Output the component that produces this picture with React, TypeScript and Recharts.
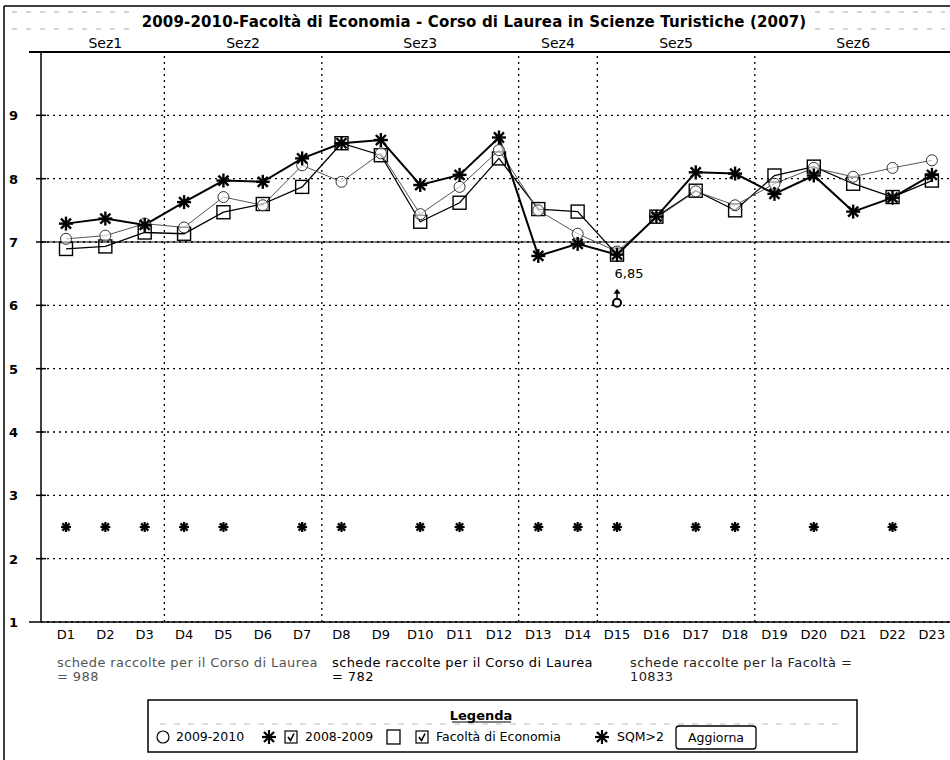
import React from "react";
import { ComposedChart, Line, XAxis, YAxis, CartesianGrid, ReferenceLine } from "recharts";

const FONT = "'DejaVu Sans', Verdana, sans-serif";

const title = "2009-2010-Facoltà di Economia - Corso di Laurea in Scienze Turistiche (2007)";
const categories = ["D1","D2","D3","D4","D5","D6","D7","D8","D9","D10","D11","D12","D13","D14","D15","D16","D17","D18","D19","D20","D21","D22","D23"];
const values2009_2010 = [7.05, 7.10, 7.29, 7.23, 7.71, 7.58, 8.21, 7.95, 8.40, 7.44, 7.87, 8.45, 7.50, 7.13, 6.85, 7.38, 7.80, 7.58, 7.92, 8.17, 8.03, 8.17, 8.29];
const values2008_2009 = [7.29, 7.37, 7.27, 7.63, 7.97, 7.95, 8.32, 8.56, 8.61, 7.90, 8.06, 8.65, 6.78, 6.97, 6.80, 7.40, 8.10, 8.08, 7.76, 8.05, 7.48, 7.70, 8.06];
const valuesFacolta = [6.89, 6.93, 7.15, 7.13, 7.47, 7.60, 7.87, 8.56, 8.37, 7.32, 7.62, 8.32, 7.52, 7.48, 6.80, 7.40, 7.81, 7.50, 8.05, 8.19, 7.92, 7.71, 7.97];
const sqmFlags = [1, 1, 1, 1, 1, 0, 1, 1, 0, 1, 1, 0, 1, 1, 1, 0, 1, 1, 0, 1, 0, 1, 0];
const sqmLevel = 2.5;
const sections = [
  { name: "Sez1", first: 1, last: 3 },
  { name: "Sez2", first: 4, last: 7 },
  { name: "Sez3", first: 8, last: 12 },
  { name: "Sez4", first: 13, last: 14 },
  { name: "Sez5", first: 15, last: 18 },
  { name: "Sez6", first: 19, last: 23 },
];
const yTicks = [1, 2, 3, 4, 5, 6, 7, 8, 9];
const yDomain = [1, 10];
const referenceLevel = 7;
const minLabel = { category: "D15", value: 6.85, text: "6,85" };
const arrowMarker = { category: "D15", value: 6.04 };
const countBlocks = [
  { line1: "schede raccolte per il Corso di Laurea", line2: "= 988" },
  { line1: "schede raccolte per il Corso di Laurea", line2: "= 782" },
  { line1: "schede raccolte per la Facoltà =", line2: "10833" },
];
const legendTitle = "Legenda";
const legendLabels = ["2009-2010", "2008-2009", "Facoltà di Economia", "SQM>2"];
const buttonLabel = "Aggiorna";

const table = categories.map((c, i) => ({
  x: i + 1,
  name: c,
  cur: values2009_2010[i],
  prev: values2008_2009[i],
  fac: valuesFacolta[i],
  sqm: sqmFlags[i] ? sqmLevel : null,
  lbl: c === minLabel.category ? minLabel.value : null,
  arrow: c === arrowMarker.category ? arrowMarker.value : null,
}));

const xTicks = categories.map((_, i) => i + 1);
const sectionCenters = sections.map((s) => (s.first + s.last) / 2);
const sectionBounds = sections.slice(0, -1).map((s) => s.last + 0.5);
const xDomain = [0.365, 23.46];

const Asterisk = ({ cx, cy, r, sw }: any) => {
  const d = r * 0.72;
  return (
    <g stroke="#000" strokeWidth={sw}>
      <line x1={cx - r} y1={cy} x2={cx + r} y2={cy} />
      <line x1={cx} y1={cy - r} x2={cx} y2={cy + r} />
      <line x1={cx - d} y1={cy - d} x2={cx + d} y2={cy + d} />
      <line x1={cx - d} y1={cy + d} x2={cx + d} y2={cy - d} />
    </g>
  );
};

const valid = (p: any) => p && p.value != null && p.cx != null && p.cy != null && !isNaN(p.cy);

const circleDot = (p: any) =>
  valid(p) ? <circle key={`c${p.index}`} cx={p.cx} cy={p.cy} r={5.5} fill="#fff" fillOpacity={0.6} stroke="#333" strokeWidth={1} /> : <g key={`c${p.index}`} />;
const squareDot = (p: any) =>
  valid(p) ? <rect key={`s${p.index}`} x={p.cx - 6.5} y={p.cy - 6.5} width={13} height={13} fill="none" stroke="#000" strokeWidth={1.4} /> : <g key={`s${p.index}`} />;
const starDot = (p: any) =>
  valid(p) ? <g key={`a${p.index}`}><Asterisk cx={p.cx} cy={p.cy} r={7} sw={2.4} /></g> : <g key={`a${p.index}`} />;
const sqmDot = (p: any) =>
  valid(p) ? <g key={`q${p.index}`}><Asterisk cx={p.cx} cy={p.cy} r={5} sw={2.2} /></g> : <g key={`q${p.index}`} />;
const labelDot = (p: any) =>
  valid(p) ? (
    <text key={`l${p.index}`} x={p.cx + 12} y={p.cy + 26} textAnchor="middle" fontFamily={FONT} fontSize={13} fill="#000">
      {minLabel.text}
    </text>
  ) : <g key={`l${p.index}`} />;
const arrowDot = (p: any) =>
  valid(p) ? (
    <g key={`w${p.index}`}>
      <line x1={p.cx} y1={p.cy - 4} x2={p.cx} y2={p.cy - 10} stroke="#000" strokeWidth={1.5} />
      <polygon points={`${p.cx - 3.5},${p.cy - 9} ${p.cx + 3.5},${p.cy - 9} ${p.cx},${p.cy - 14}`} fill="#000" />
      <circle cx={p.cx} cy={p.cy} r={4} fill="#fff" stroke="#000" strokeWidth={2} />
    </g>
  ) : <g key={`w${p.index}`} />;

const YTick = (props: any) => {
  const { y, payload } = props;
  return (
    <g>
      <text x={9} y={y + 5} fontFamily={FONT} fontSize={13} fontWeight="bold" fill="#000">{payload.value}</text>
      {payload.value === 1 ? (
        <line x1={29} x2={41} y1={y} y2={y} stroke="#000" strokeWidth={1.5} />
      ) : (
        <line x1={36} x2={46} y1={y} y2={y} stroke="#000" strokeWidth={1.5} />
      )}
    </g>
  );
};

const XTick = (props: any) => {
  const { x, y, payload } = props;
  return (
    <text x={x} y={y + 17} textAnchor="middle" fontFamily={FONT} fontSize={13} fill="#000">
      {categories[payload.value - 1]}
    </text>
  );
};

const TopTick = (props: any) => {
  const { x, y, payload } = props;
  const idx = sectionCenters.indexOf(payload.value);
  return (
    <text x={x} y={y - 4} textAnchor="middle" fontFamily={FONT} fontSize={14} fill="#000">
      {idx >= 0 ? sections[idx].name : ""}
    </text>
  );
};

const CheckBox = ({ x, y }: any) => (
  <g>
    <rect x={x} y={y} width={12} height={12} fill="#fff" stroke="#000" strokeWidth={1.2} />
    <polyline points={`${x + 3},${y + 6} ${x + 5.5},${y + 9.5} ${x + 9},${y + 2.5}`} fill="none" stroke="#000" strokeWidth={1.6} />
  </g>
);

export default function App() {
  return (
    <div style={{ position: "absolute", left: 0, top: 0, width: 950, height: 760, background: "#fff" }}>
      <ComposedChart
        width={950}
        height={760}
        data={table}
        margin={{ top: 22, right: 0, bottom: 108, left: 0 }}
      >
        <CartesianGrid vertical={false} stroke="#000" strokeDasharray="2 4" strokeWidth={1.3} />
        <XAxis
          xAxisId="top"
          orientation="top"
          type="number"
          dataKey="x"
          domain={xDomain}
          allowDataOverflow
          ticks={sectionCenters}
          interval={0}
          tickSize={0}
          tickMargin={0}
          height={30}
          tick={<TopTick />}
          axisLine={{ stroke: "#000", strokeWidth: 2 }}
          tickLine={false}
        />
        <XAxis
          type="number"
          dataKey="x"
          domain={xDomain}
          allowDataOverflow
          ticks={xTicks}
          interval={0}
          tickSize={0}
          tickMargin={0}
          height={30}
          tick={<XTick />}
          axisLine={{ stroke: "#000", strokeWidth: 1.5 }}
          tickLine={false}
        />
        <YAxis
          type="number"
          domain={yDomain}
          ticks={yTicks}
          interval={0}
          width={41}
          tickSize={0}
          tickMargin={0}
          tick={<YTick />}
          axisLine={{ stroke: "#000", strokeWidth: 1.5 }}
          tickLine={false}
        />
        {sectionBounds.map((b) => (
          <ReferenceLine key={b} x={b} stroke="#000" strokeDasharray="2 4" strokeWidth={1.3} />
        ))}
        <ReferenceLine y={referenceLevel} stroke="#000" strokeWidth={1.2} />
        <Line dataKey="fac" stroke="#000" strokeWidth={1.3} dot={squareDot} activeDot={false} isAnimationActive={false} />
        <Line dataKey="cur" stroke="#555" strokeWidth={1} dot={circleDot} activeDot={false} isAnimationActive={false} />
        <Line dataKey="prev" stroke="#000" strokeWidth={2} dot={starDot} activeDot={false} isAnimationActive={false} />
        <Line dataKey="sqm" stroke="none" dot={sqmDot} activeDot={false} isAnimationActive={false} connectNulls={false} />
        <Line dataKey="lbl" stroke="none" dot={labelDot} activeDot={false} isAnimationActive={false} />
        <Line dataKey="arrow" stroke="none" dot={arrowDot} activeDot={false} isAnimationActive={false} />
      </ComposedChart>
      <svg width={950} height={760} style={{ position: "absolute", left: 0, top: 0, pointerEvents: "none" }}>
        <line x1={4} y1={6} x2={950} y2={6} stroke="#000" strokeWidth={1.5} />
        <line x1={4} y1={6} x2={4} y2={760} stroke="#000" strokeWidth={1.5} />
        <line x1={29} y1={52} x2={41} y2={52} stroke="#000" strokeWidth={2} />
        <g stroke="#aaa" strokeWidth={1} strokeDasharray="5 9">
          <line x1={12} y1={12} x2={135} y2={12} />
          <line x1={12} y1={29} x2={135} y2={29} />
          <line x1={815} y1={12} x2={945} y2={12} />
          <line x1={815} y1={29} x2={945} y2={29} />
        </g>
        <text x={474} y={27} textAnchor="middle" fontFamily={FONT} fontSize={15} fontWeight="bold" letterSpacing={0.15} fill="#000">{title}</text>
        {countBlocks.map((b, i) => {
          const xs = [57, 332, 630];
          const colors = ["#555", "#000", "#222"];
          return (
            <g key={i} fontFamily={FONT} fontSize={13} letterSpacing={0.4} fill={colors[i]}>
              <text x={xs[i]} y={667}>{b.line1}</text>
              <text x={xs[i]} y={681}>{b.line2}</text>
            </g>
          );
        })}
        <rect x={148} y={700} width={709} height={52} fill="none" stroke="#000" strokeWidth={1.5} />
        <text x={481} y={720} textAnchor="middle" fontFamily={FONT} fontSize={13} fontWeight="bold" fill="#000">{legendTitle}</text>
        <line x1={452} x2={511} y1={722} y2={722} stroke="#000" strokeWidth={1.2} />
        <line x1={160} x2={845} y1={724} y2={724} stroke="#bbb" strokeWidth={1} strokeDasharray="6 8" />
        <g fontFamily={FONT} fontSize={12.5} fill="#000">
          <circle cx={163} cy={737} r={6} fill="#fff" stroke="#000" strokeWidth={1.2} />
          <text x={176} y={741}>{legendLabels[0]}</text>
          <Asterisk cx={269} cy={737} r={7} sw={2.2} />
          <CheckBox x={285} y={731} />
          <text x={305} y={741}>{legendLabels[1]}</text>
          <rect x={387} y={730} width={13} height={14} fill="#fff" stroke="#000" strokeWidth={1.3} />
          <CheckBox x={416} y={731} />
          <text x={436} y={741}>{legendLabels[2]}</text>
          <Asterisk cx={602} cy={737} r={7} sw={2.2} />
          <text x={617} y={741}>{legendLabels[3]}</text>
          <rect x={676} y={726} width={80} height={23} rx={3} fill="#fff" stroke="#000" strokeWidth={1.3} />
          <text x={716} y={742} textAnchor="middle">{buttonLabel}</text>
        </g>
      </svg>
    </div>
  );
}
